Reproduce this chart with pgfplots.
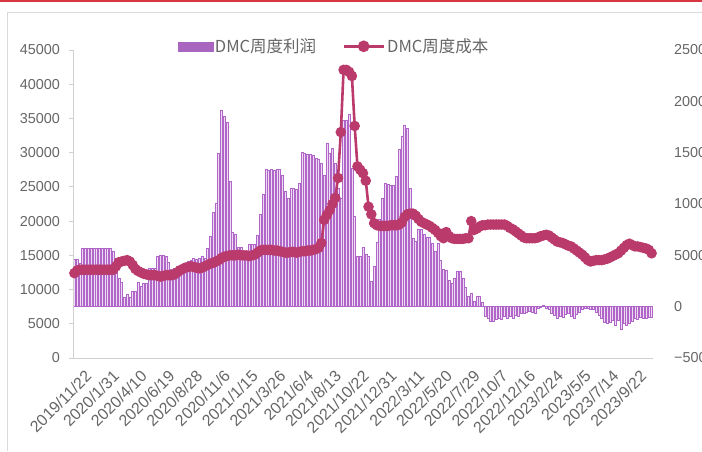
\documentclass[border=0pt]{standalone}
\usepackage{fontspec}
\setmainfont{Liberation Sans}
\newfontfamily\cjk{Noto Sans CJK SC}
\usepackage{pgfplots}
\usepackage{pgfplotstable}
\pgfplotsset{compat=1.18}
\definecolor{linecol}{HTML}{BA3B6B}
\definecolor{baredge}{HTML}{B066C8}
\definecolor{barfill}{HTML}{EFDCF3}
\definecolor{legbar}{HTML}{A866C0}
\definecolor{txtgray}{HTML}{666666}
\definecolor{axgray}{HTML}{D0D0D0}
\definecolor{topred}{HTML}{D7373E}

\pgfplotstableread[row sep=\\]{
x y\\
0 4600\\ 1 4600\\ 2 4200\\ 3 5700\\ 4 5700\\ 5 5700\\ 6 5700\\ 7 5700\\ 8 5700\\ 9 5700\\
10 5700\\ 11 5700\\ 12 5700\\ 13 5700\\ 14 5400\\ 15 4000\\ 16 2800\\ 17 2400\\ 18 900\\ 19 1200\\
20 900\\ 21 1500\\ 22 1500\\ 23 2400\\ 24 2000\\ 25 2300\\ 26 2300\\ 27 3700\\ 28 3700\\ 29 3700\\
30 4900\\ 31 5000\\ 32 5000\\ 33 4900\\ 34 4300\\ 35 3600\\ 36 3700\\ 37 3900\\ 38 3600\\ 39 3600\\
40 3900\\ 41 4400\\ 42 4500\\ 43 4700\\ 44 4600\\ 45 4700\\ 46 4900\\ 47 4700\\ 48 5700\\ 49 6900\\
50 9200\\ 51 10100\\ 52 14900\\ 53 19100\\ 54 18500\\ 55 18000\\ 56 12200\\ 57 7200\\ 58 7100\\ 59 5800\\
60 5800\\ 61 5200\\ 62 5200\\ 63 6100\\ 64 6100\\ 65 6100\\ 66 7000\\ 67 9000\\ 68 10900\\ 69 13400\\
70 13300\\ 71 13400\\ 72 13300\\ 73 13400\\ 74 13400\\ 75 12800\\ 76 11200\\ 77 10600\\ 78 11500\\ 79 11500\\
80 11400\\ 81 12000\\ 82 15000\\ 83 14900\\ 84 14800\\ 85 14800\\ 86 14700\\ 87 14500\\ 88 14400\\ 89 14000\\
90 12800\\ 91 15900\\ 92 14900\\ 93 15400\\ 94 14000\\ 95 11500\\ 96 10600\\ 97 18200\\ 98 18200\\ 99 18700\\
100 13500\\ 101 8800\\ 102 4900\\ 103 4900\\ 104 5800\\ 105 5100\\ 106 4900\\ 107 2500\\ 108 3900\\ 109 6300\\
110 8500\\ 111 10600\\ 112 12000\\ 113 11900\\ 114 11800\\ 115 11800\\ 116 12700\\ 117 15300\\ 118 16600\\ 119 17700\\
120 17400\\ 121 11500\\ 122 6700\\ 123 6400\\ 124 7500\\ 125 7500\\ 126 7100\\ 127 6800\\ 128 6800\\ 129 6200\\
130 5400\\ 131 6200\\ 132 4500\\ 133 3600\\ 134 3500\\ 135 2600\\ 136 2300\\ 137 2800\\ 138 3400\\ 139 3400\\
140 2800\\ 141 1900\\ 142 1000\\ 143 1300\\ 144 500\\ 145 1000\\ 146 1000\\ 147 400\\ 148 -900\\ 149 -1100\\
150 -1400\\ 151 -1400\\ 152 -1200\\ 153 -1100\\ 154 -1200\\ 155 -900\\ 156 -1100\\ 157 -900\\ 158 -1100\\ 159 -800\\
160 -900\\ 161 -650\\ 162 -600\\ 163 -500\\ 164 -400\\ 165 -500\\ 166 -600\\ 167 -200\\ 168 -100\\ 169 150\\
170 -200\\ 171 -300\\ 172 -650\\ 173 -800\\ 174 -1100\\ 175 -900\\ 176 -1000\\ 177 -700\\ 178 -600\\ 179 -900\\
180 -1100\\ 181 -700\\ 182 -500\\ 183 -300\\ 184 -200\\ 185 -200\\ 186 -300\\ 187 -250\\ 188 -500\\ 189 -800\\
190 -1100\\ 191 -1500\\ 192 -1600\\ 193 -1500\\ 194 -1300\\ 195 -1800\\ 196 -1300\\ 197 -2200\\ 198 -1600\\ 199 -1800\\
200 -1600\\ 201 -1400\\ 202 -1100\\ 203 -1200\\ 204 -1000\\ 205 -1100\\ 206 -1100\\ 207 -1000\\ 208 -1000\\
}\profit

\pgfplotstableread[row sep=\\]{
x y\\
0 12400\\ 1 12800\\ 2 12900\\ 3 12900\\ 4 12900\\ 5 12900\\ 6 12900\\ 7 12900\\ 8 12900\\ 9 12900\\
10 12900\\ 11 12900\\ 12 12900\\ 13 12900\\ 14 12900\\ 15 13400\\ 16 14000\\ 17 14100\\ 18 14200\\ 19 14300\\
20 14100\\ 21 13600\\ 22 13000\\ 23 12700\\ 24 12500\\ 25 12300\\ 26 12200\\ 27 12100\\ 28 12100\\ 29 12100\\
30 12000\\ 31 11900\\ 32 12000\\ 33 12100\\ 34 12100\\ 35 12100\\ 36 12200\\ 37 12500\\ 38 12800\\ 39 13000\\
40 13200\\ 41 13300\\ 42 13400\\ 43 13300\\ 44 13200\\ 45 13100\\ 46 13200\\ 47 13400\\ 48 13600\\ 49 13800\\
50 13900\\ 51 14100\\ 52 14300\\ 53 14600\\ 54 14800\\ 55 14900\\ 56 15000\\ 57 15000\\ 58 15000\\ 59 15100\\
60 15000\\ 61 15000\\ 62 15000\\ 63 14900\\ 64 15000\\ 65 15100\\ 66 15400\\ 67 15700\\ 68 15800\\ 69 15800\\
70 15800\\ 71 15800\\ 72 15700\\ 73 15700\\ 74 15600\\ 75 15500\\ 76 15400\\ 77 15400\\ 78 15500\\ 79 15500\\
80 15400\\ 81 15500\\ 82 15600\\ 83 15600\\ 84 15700\\ 85 15700\\ 86 15800\\ 87 15900\\ 88 16100\\ 89 16800\\
90 20200\\ 91 20900\\ 92 21600\\ 93 22500\\ 94 23400\\ 95 26300\\ 96 33000\\ 97 42100\\ 98 42100\\ 99 41800\\
100 41200\\ 101 33900\\ 102 28000\\ 103 27500\\ 104 27000\\ 105 25900\\ 106 22100\\ 107 21000\\ 108 19700\\ 109 19400\\
110 19300\\ 111 19300\\ 112 19300\\ 113 19300\\ 114 19400\\ 115 19400\\ 116 19400\\ 117 19500\\ 118 19800\\ 119 20600\\
120 21000\\ 121 21100\\ 122 21100\\ 123 20800\\ 124 20300\\ 125 19900\\ 126 19700\\ 127 19500\\ 128 19300\\ 129 19000\\
130 18700\\ 131 18300\\ 132 17800\\ 133 17500\\ 134 18400\\ 135 17800\\ 136 17500\\ 137 17400\\ 138 17400\\ 139 17400\\
140 17400\\ 141 17500\\ 142 17500\\ 143 20000\\ 144 18700\\ 145 18900\\ 146 19200\\ 147 19400\\ 148 19400\\ 149 19500\\
150 19500\\ 151 19500\\ 152 19500\\ 153 19500\\ 154 19500\\ 155 19500\\ 156 19300\\ 157 19000\\ 158 18800\\ 159 18500\\
160 18200\\ 161 17900\\ 162 17600\\ 163 17500\\ 164 17500\\ 165 17500\\ 166 17500\\ 167 17600\\ 168 17800\\ 169 17900\\
170 18000\\ 171 17900\\ 172 17600\\ 173 17300\\ 174 17000\\ 175 16900\\ 176 16800\\ 177 16600\\ 178 16400\\ 179 16300\\
180 16000\\ 181 15700\\ 182 15400\\ 183 15100\\ 184 14700\\ 185 14300\\ 186 14100\\ 187 14200\\ 188 14300\\ 189 14300\\
190 14300\\ 191 14400\\ 192 14500\\ 193 14700\\ 194 14900\\ 195 15100\\ 196 15300\\ 197 15700\\ 198 16100\\ 199 16500\\
200 16700\\ 201 16500\\ 202 16300\\ 203 16300\\ 204 16200\\ 205 16100\\ 206 16000\\ 207 15800\\ 208 15300\\
}\cost

\begin{document}
\begin{tikzpicture}[x=1pt,y=1pt]
% right axis: weekly profit (bars)
\begin{axis}[
  at={(0pt,0pt)}, anchor=south west,
  scale only axis, width=580pt, height=308pt,
  xmin=-0.5, xmax=208.5, ymin=-5000, ymax=25000,
  axis x line=none,
  axis y line*=right,
  every outer y axis line/.append style={draw=none},
  y axis line style={draw=none},
  ytick={-5000,0,5000,10000,15000,20000,25000},
  yticklabels={−5000,0,5000,10000,15000,20000,25000},
  scaled y ticks=false,
  major tick length=0pt,
  ytick style={draw=none},
  yticklabel style={font=\fontsize{14.4}{16}\selectfont, text=txtgray, anchor=west, inner sep=0pt, xshift=21pt},
]
\addplot[ybar, bar width=2.0pt, fill=barfill, draw=baredge, line width=0.55pt] table {\profit};
\end{axis}
% left axis: weekly cost (line)
\begin{axis}[
  at={(0pt,0pt)}, anchor=south west,
  scale only axis, width=580pt, height=308pt,
  xmin=-0.5, xmax=208.5, ymin=0, ymax=45000,
  axis x line*=bottom, axis y line*=left,
  every outer x axis line/.append style={-, draw=axgray, line width=0.8pt},
  every outer y axis line/.append style={-, draw=axgray, line width=0.8pt},
  xtick={0,10,...,200},
  xticklabels={2019/11/22,2020/1/31,2020/4/10,2020/6/19,2020/8/28,2020/11/6,2021/1/15,2021/3/26,2021/6/4,2021/8/13,2021/10/22,2021/12/31,2022/3/11,2022/5/20,2022/7/29,2022/10/7,2022/12/16,2023/2/24,2023/5/5,2023/7/14,2023/9/22},
  xtick style={draw=none},
  xticklabel style={rotate=45, anchor=north east, inner sep=0pt, yshift=-12pt, xshift=2pt, font=\fontsize{16}{18}\selectfont, text=txtgray},
  ytick={0,5000,...,45000},
  scaled y ticks=false,
  yticklabel style={/pgf/number format/fixed, /pgf/number format/1000 sep={}, /pgf/number format/assume math mode=true, font=\fontsize{14.4}{16}\selectfont, text=txtgray, inner sep=0pt, xshift=-9pt},
  ytick style={draw=axgray, line width=0.8pt},
  major tick length=4pt, tick align=outside,
  legend style={at={(0.45,1.012)}, anchor=center, draw=none, fill=none,
    font=\cjk\fontsize{16.5}{19}\selectfont, text=txtgray,
    /tikz/every even column/.append style={column sep=24pt}},
  legend columns=2,
  legend cell align=left,
]
\addlegendimage{legend image code/.code={\fill[legbar] (0pt,-4.5pt) rectangle (35pt,4.5pt);}}
\addlegendentry{DMC周度利润}
\addplot[linecol, line width=2.6pt, mark=*, mark size=3.9pt, mark options={solid, fill=linecol, draw=none},
  legend image code/.code={\draw[linecol, line width=3pt] (0pt,0pt) -- (40pt,0pt); \fill[linecol] (20pt,0pt) circle (4.5pt);}] table {\cost};
\addlegendentry{DMC周度成本}
\end{axis}
% frame decorations
\draw[black!15, line width=0.8pt] (-65.5,-93) -- (-65.5,346) -- (629,346);
\fill[topred] (-73,355.6) rectangle (629,358);
\pgfresetboundingbox
\useasboundingbox (-73,-93) rectangle (629,358);
\end{tikzpicture}
\end{document}
